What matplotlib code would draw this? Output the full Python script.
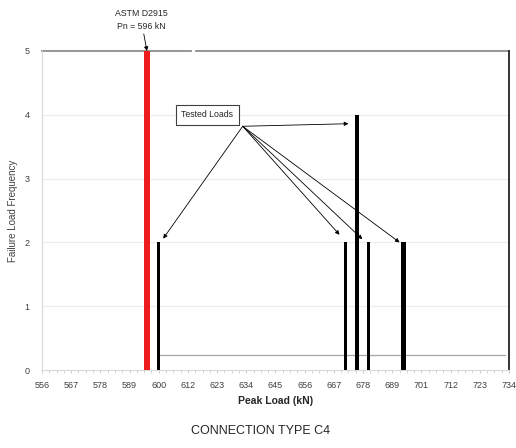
import numpy as np
import matplotlib.pyplot as plt
from matplotlib.ticker import FixedLocator

plt.rcParams['font.family'] = ['Liberation Sans', 'DejaVu Sans']

# tested peak loads (kN) and how many specimens failed at each
loads = [600.4, 671.6, 676.1, 680.5, 693.9]
freq = [2, 2, 4, 2, 2]
bar_w = [1.15, 1.15, 1.5, 1.15, 1.9]

# ASTM D2915 nominal capacity
pn = 596
pn_freq = 5

xmin, xmax = 556, 734
xticks = np.linspace(xmin, xmax, 17)
xlabels = ['556', '567', '578', '589', '600', '612', '623', '634', '645',
           '656', '667', '678', '689', '701', '712', '723', '734']

fig = plt.figure(figsize=(5.16, 4.48), dpi=100)
ax = fig.add_axes([0.0814, 0.1741, 0.905, 0.7121])

ax.set_xlim(xmin, xmax)
ax.set_ylim(0, 5)

for y in [1, 2, 3, 4]:
    ax.axhline(y, color='#ececec', lw=0.8, zorder=0)

# top border line (broken)
ax.plot([xmin, 612.9], [5, 5], color='#8c8c8c', lw=1.3, clip_on=False, zorder=1)
ax.plot([614.8, xmax], [5, 5], color='#8c8c8c', lw=1.3, clip_on=False, zorder=1)

# baseline trace from first tested load
ax.plot([loads[0], 732.5], [0.23, 0.23], color='#a6a6a6', lw=0.9, zorder=1)

ax.bar(pn, pn_freq, width=2.0, color='#ee1c1c', zorder=3)
ax.bar(loads, freq, width=bar_w, color='black', zorder=3)

ax.spines['top'].set_visible(False)
ax.spines['left'].set_color('#d9d9d9')
ax.spines['bottom'].set_color('#d9d9d9')
ax.spines['right'].set_color('#333333')
ax.spines['right'].set_linewidth(1.4)

ax.set_xticks(xticks)
ax.set_xticklabels(xlabels, fontsize=6.5, color='#404040')
ax.xaxis.set_minor_locator(FixedLocator(np.arange(xmin, xmax, 11.125 / 4)))
ax.tick_params(axis='x', which='both', length=2, color='#d0d0d0', pad=6)
ax.set_yticks([0, 1, 2, 3, 4, 5])
ax.set_yticklabels(['0', '1', '2', '3', '4', '5'], fontsize=6.5, color='#404040')
ax.tick_params(axis='y', length=0, pad=9)

ax.set_xlabel('Peak Load (kN)', fontsize=7.5, fontweight='bold', color='#262626', labelpad=4)
ax.set_ylabel('Failure Load Frequency', fontsize=7, color='#404040', labelpad=5)

arrow = dict(arrowstyle='-|>', color='black', lw=0.6, mutation_scale=6,
             shrinkA=0, shrinkB=0)

ax.annotate('ASTM D2915\nPn = 596 kN', xy=(pn, pn_freq), xytext=(593.8, 5.31),
            ha='center', va='bottom', fontsize=6.3, color='#262626',
            linespacing=1.65, arrowprops=arrow, annotation_clip=False)

ax.text(619, 4.0, 'Tested Loads', ha='center', va='center', fontsize=6.3,
        color='#262626', zorder=5,
        bbox=dict(boxstyle='square,pad=0.65', fc='white', ec='#404040', lw=0.8))

src = (632.5, 3.82)
targets = [(672.8, 3.86), (602.2, 2.06), (669.4, 2.12), (678.1, 2.05), (692.3, 2.0)]
for t in targets:
    ax.annotate('', xy=t, xytext=src, arrowprops=arrow, zorder=4)

fig.text(0.504, 0.024, 'CONNECTION TYPE C4', ha='center', va='bottom',
         fontsize=9, color='#262626')

fig.savefig('out.png', dpi=100)
